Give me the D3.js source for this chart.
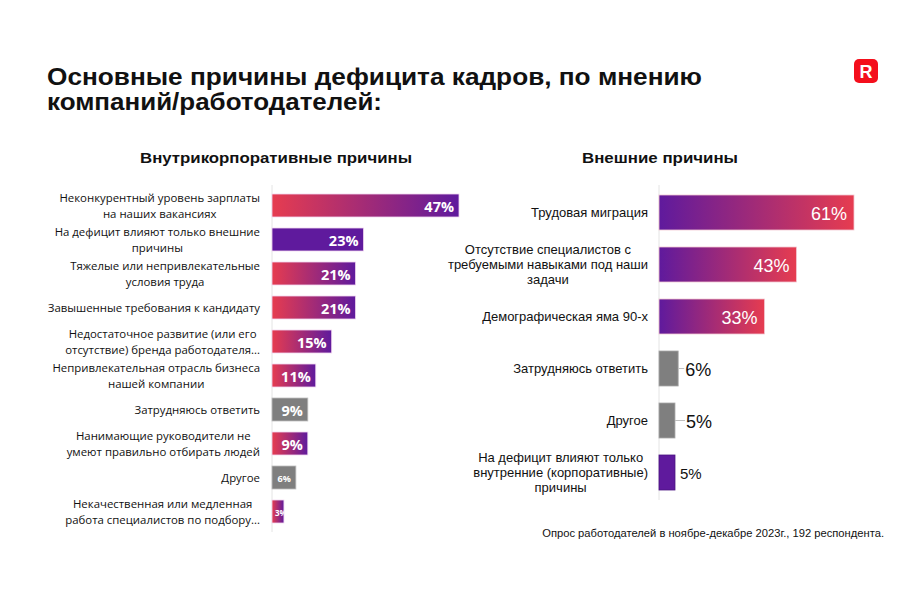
<!DOCTYPE html>
<html><head><meta charset="utf-8">
<script src="https://cdn.jsdelivr.net/npm/d3@7"></script>
<style>
body{margin:0;background:#fff;}
svg{display:block;}
</style></head>
<body>
<svg id="c" width="900" height="600"></svg>
<script>
// ---------- DATA ----------
const titleLines = ["Основные причины дефицита кадров, по мнению", "компаний/работодателей:"];
const leftTitle = "Внутрикорпоративные причины";
const rightTitle = "Внешние причины";
const footnote = "Опрос работодателей в ноябре-декабре 2023г., 192 респондента.";

const leftCategories = [
  ["Неконкурентный уровень зарплаты", "на наших вакансиях"],
  ["На дефицит влияют только внешние", "причины"],
  ["Тяжелые или непривлекательные", "условия труда"],
  ["Завышенные требования к кандидату"],
  ["Недостаточное развитие (или его", "отсутствие) бренда работодателя..."],
  ["Непривлекательная отрасль бизнеса", "нашей компании"],
  ["Затрудняюсь ответить"],
  ["Нанимающие руководители не", "умеют правильно отбирать людей"],
  ["Другое"],
  ["Некачественная или медленная", "работа специалистов по подбору..."]
];
const leftValues = [47, 23, 21, 21, 15, 11, 9, 9, 6, 3];
const leftKinds = ["grad", "purple", "grad", "grad", "grad", "grad", "gray", "grad", "gray", "grad"];

const rightCategories = [
  ["Трудовая миграция"],
  ["Отсутствие специалистов с", "требуемыми навыками под наши", "задачи"],
  ["Демографическая яма 90-х"],
  ["Затрудняюсь ответить"],
  ["Другое"],
  ["На дефицит влияют только", "внутренние (корпоративные)", "причины"]
];
const rightValues = [61, 43, 33, 6, 5, 5];
const rightKinds = ["grad", "grad", "grad", "gray", "gray", "purple"];

// ---------- STYLE ----------
const RED = "#e63c50", PURPLE = "#5f1a9d", GRAY = "#7f7f7f";
const svg = d3.select("#c");
const defs = svg.append("defs");
function grad(id, from, to) {
  const g = defs.append("linearGradient").attr("id", id).attr("x1", "0%").attr("x2", "100%").attr("y1", "0%").attr("y2", "0%");
  g.append("stop").attr("offset", "0%").attr("stop-color", from);
  g.append("stop").attr("offset", "100%").attr("stop-color", to);
}
grad("gL", RED, PURPLE);
grad("gR", PURPLE, RED);

// Title
const TF = "'Liberation Sans', Arial, sans-serif";
svg.append("text").attr("x", 47).attr("y", 85).attr("font-family", TF).attr("font-weight", "bold")
  .attr("font-size", 24.5).attr("fill", "#111").attr("textLength", 655).attr("lengthAdjust", "spacingAndGlyphs").text(titleLines[0]);
svg.append("text").attr("x", 47).attr("y", 110).attr("font-family", TF).attr("font-weight", "bold")
  .attr("font-size", 24.5).attr("fill", "#111").attr("textLength", 335).attr("lengthAdjust", "spacingAndGlyphs").text(titleLines[1]);

// Logo
const logo = svg.append("g");
logo.append("rect").attr("x", 854).attr("y", 59).attr("width", 24).attr("height", 24).attr("rx", 5).attr("fill", "#f40f1c");
logo.append("text").attr("x", 866).attr("y", 78).attr("text-anchor", "middle").attr("font-family", TF)
  .attr("font-weight", "bold").attr("font-size", 18).attr("fill", "#fff").text("R");

// Section titles
svg.append("text").attr("x", 276).attr("y", 163).attr("text-anchor", "middle").attr("font-family", TF)
  .attr("font-weight", "bold").attr("font-size", 15).attr("fill", "#111").attr("textLength", 272).attr("lengthAdjust", "spacingAndGlyphs").text(leftTitle);
svg.append("text").attr("x", 660).attr("y", 163).attr("text-anchor", "middle").attr("font-family", TF)
  .attr("font-weight", "bold").attr("font-size", 15).attr("fill", "#111").attr("textLength", 156).attr("lengthAdjust", "spacingAndGlyphs").text(rightTitle);

// multi-line centred label block right-aligned at xr
function labelBlock(g, lines, xr, yc, lh, font, size, color) {
  const t = g.append("text").attr("font-family", font).attr("font-size", size).attr("fill", color);
  const spans = lines.map((l, i) => t.append("tspan").text(l));
  const widths = spans.map(s => s.node().getComputedTextLength());
  const maxW = d3.max(widths);
  const cx = xr - maxW / 2;
  const n = lines.length;
  spans.forEach((s, i) => {
    s.attr("x", cx).attr("text-anchor", "middle")
     .attr("y", yc + (i - (n - 1) / 2) * lh).attr("dominant-baseline", "central");
  });
}

function fillFor(kind, side) {
  if (kind === "gray") return GRAY;
  if (kind === "purple") return PURPLE;
  return side === "L" ? "url(#gL)" : "url(#gR)";
}

// ---------- LEFT CHART ----------
const LF = "'Open Sans', 'Noto Sans', sans-serif";
const xL = d3.scaleLinear().domain([0, 47]).range([272, 459]);
const yL = d3.scaleBand().domain(d3.range(leftValues.length)).range([188.5, 528.5]).paddingInner(0.324).paddingOuter(0.162);
const gL = svg.append("g");
gL.append("line").attr("x1", xL(0)).attr("x2", xL(0)).attr("y1", 185).attr("y2", 532).attr("stroke", "#e4e4e4").attr("stroke-width", 1);
leftValues.forEach((v, i) => {
  const y = yL(i), h = yL.bandwidth();
  gL.append("rect").attr("x", xL(0)).attr("y", y).attr("width", xL(v) - xL(0)).attr("height", h)
    .attr("fill", fillFor(leftKinds[i], "L"))
    .attr("stroke", leftKinds[i] === "gray" ? "#bdbdbd" : "#f1d6ef").attr("stroke-width", 0.8);
  labelBlock(gL, leftCategories[i], 260, y + h / 2, 16, LF, 11.4, "#111");
  const fs = v >= 9 ? 14.5 : (v >= 6 ? 9 : 8);
  const cid = "clipL" + i;
  defs.append("clipPath").attr("id", cid).append("rect").attr("x", xL(0)).attr("y", y).attr("width", xL(v) - xL(0)).attr("height", h);
  gL.append("text").attr("x", v >= 6 ? xL(v) - 5 : xL(0) + 3).attr("y", y + h / 2 + 1).attr("dominant-baseline", "central")
    .attr("text-anchor", v >= 6 ? "end" : "start")
    .attr("clip-path", v < 6 ? `url(#${cid})` : null)
    .attr("font-family", LF).attr("font-weight", "bold").attr("font-size", fs).attr("fill", "#fff").text(v + "%");
});

// ---------- RIGHT CHART ----------
const RF = "'Liberation Sans', Arial, sans-serif";
const xR = d3.scaleLinear().domain([0, 61]).range([659, 854]);
const yR = d3.scaleBand().domain(d3.range(rightValues.length)).range([186.5, 498.5]).paddingInner(0.327).paddingOuter(0.1635);
const gR = svg.append("g");
gR.append("line").attr("x1", xR(0)).attr("x2", xR(0)).attr("y1", 185).attr("y2", 500).attr("stroke", "#e4e4e4").attr("stroke-width", 1);
rightValues.forEach((v, i) => {
  const y = yR(i), h = yR.bandwidth();
  const w = xR(v) - xR(0);
  gR.append("rect").attr("x", xR(0)).attr("y", y).attr("width", w).attr("height", h)
    .attr("fill", fillFor(rightKinds[i], "R"))
    .attr("stroke", rightKinds[i] === "gray" ? "#a8a8a8" : (rightKinds[i] === "purple" ? "#4a1280" : "#f2c8d2")).attr("stroke-width", 0.8);
  labelBlock(gR, rightCategories[i], 648, y + h / 2, 15, RF, 13, "#111");
  if (v >= 20) {
    gR.append("text").attr("x", xR(v) - 7).attr("y", y + h / 2 + 1).attr("dominant-baseline", "central")
      .attr("text-anchor", "end").attr("font-family", RF).attr("font-size", 18).attr("fill", "#fff").text(v + "%");
  } else {
    const isGray = rightKinds[i] === "gray";
    const off = isGray ? (i === 4 ? 11 : 7) : 5;
    if (isGray) {
      gR.append("line").attr("x1", xR(v)).attr("x2", xR(v) + off - 1).attr("y1", y + h / 2).attr("y2", y + h / 2)
        .attr("stroke", "#bfbfbf").attr("stroke-width", 1);
    }
    gR.append("text").attr("x", xR(v) + off).attr("y", y + h / 2 + 1).attr("dominant-baseline", "central")
      .attr("text-anchor", "start").attr("font-family", RF).attr("font-size", isGray ? 18 : 15).attr("fill", "#111").text(v + "%");
  }
});

// Footnote
svg.append("text").attr("x", 884).attr("y", 537).attr("text-anchor", "end").attr("font-family", RF)
  .attr("font-size", 11.2).attr("fill", "#111").text(footnote);
</script>
</body></html>
